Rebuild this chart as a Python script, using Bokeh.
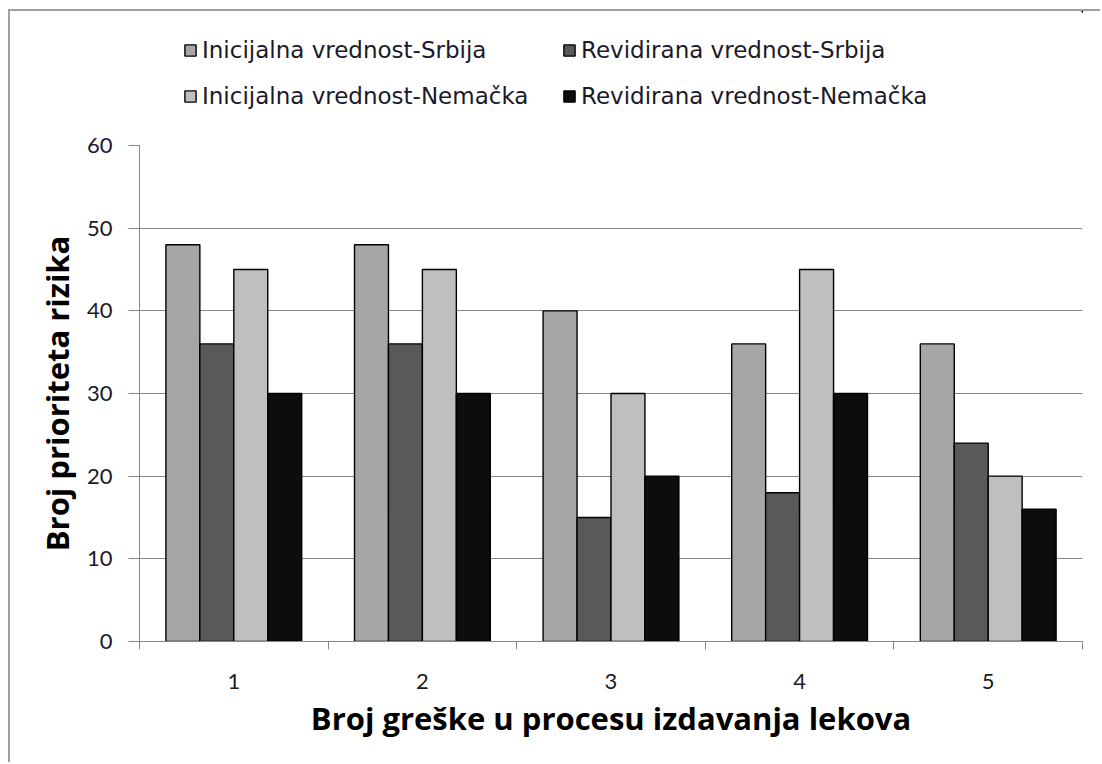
from bokeh.plotting import figure
from bokeh.models import ColumnDataSource, FixedTicker, Legend, LegendItem, Range1d
from bokeh.layouts import column
from bokeh.transform import dodge
from bokeh.embed import file_html
from bokeh.resources import INLINE

categories = [1, 2, 3, 4, 5]
tick_labels = ["1", "2", "3", "4", "5"]
series_names = ["Inicijalna vrednost-Srbija", "Revidirana vrednost-Srbija",
                "Inicijalna vrednost-Nemačka", "Revidirana vrednost-Nemačka"]
init_srbija = [48, 48, 40, 36, 36]
rev_srbija = [36, 36, 15, 18, 24]
init_nemacka = [45, 45, 30, 45, 20]
rev_nemacka = [30, 30, 20, 30, 16]

colors = ["#A6A6A6", "#595959", "#BFBFBF", "#0D0D0D"]
offsets = [-0.27, -0.09, 0.09, 0.27]
keys = ["s0", "s1", "s2", "s3"]

src = ColumnDataSource(dict(x=categories, s0=init_srbija, s1=rev_srbija,
                            s2=init_nemacka, s3=rev_nemacka))

W = 1090
HL = 114      # legend strip height
HM = 637      # main chart height

# ---------- main chart ----------
p = figure(width=W, height=HM, output_backend="svg", toolbar_location=None,
           x_range=Range1d(0.5, 5.5), y_range=Range1d(0, 60),
           min_border_left=129, min_border_right=18,
           min_border_top=20, min_border_bottom=121)
p.outline_line_color = None
p.background_fill_color = "white"

for i, key in enumerate(keys):
    p.vbar(x=dodge("x", offsets[i], range=p.x_range), top=key, width=0.18,
           source=src, fill_color=colors[i], line_color="#000000", line_width=1.4)

p.xaxis.ticker = FixedTicker(ticks=categories, minor_ticks=[0.5, 1.5, 2.5, 3.5, 4.5, 5.5])
p.xaxis.major_label_overrides = {c: t for c, t in zip(categories, tick_labels)}
p.xaxis.major_tick_line_color = None
p.xaxis.major_tick_out = 0
p.xaxis.major_tick_in = 0
p.xaxis.minor_tick_line_color = "#868686"
p.xaxis.minor_tick_out = 8
p.xaxis.minor_tick_in = 0
p.xaxis.axis_line_color = "#868686"
p.xaxis.major_label_standoff = 24
p.xaxis.axis_label = "Broj greške u procesu izdavanja lekova"
p.xaxis.axis_label_standoff = 5

p.yaxis.ticker = FixedTicker(ticks=[0, 10, 20, 30, 40, 50, 60])
p.yaxis.major_tick_line_color = "#868686"
p.yaxis.major_tick_out = 11
p.yaxis.major_tick_in = 0
p.yaxis.minor_tick_line_color = None
p.yaxis.axis_line_color = "#868686"
p.yaxis.major_label_standoff = 16
p.yaxis.axis_label = "Broj prioriteta rizika"
p.yaxis.axis_label_standoff = 6

for ax in (p.xaxis, p.yaxis):
    ax.major_label_text_font = "Lato"
    ax.major_label_text_font_size = "22px"
    ax.major_label_text_color = "#1A1A2A"
    ax.axis_label_text_font = "Open Sans"
    ax.axis_label_text_font_style = "bold"
    ax.axis_label_text_font_size = "31px"
    ax.axis_label_text_color = "#000000"

p.xgrid.grid_line_color = None
p.ygrid.grid_line_color = "#868686"
p.ygrid.grid_line_width = 1

# ---------- legend strip ----------
pl = figure(width=W, height=HL, output_backend="svg", toolbar_location=None,
            x_axis_type=None, y_axis_type=None,
            x_range=Range1d(-20, -19), y_range=Range1d(-20, -19),
            min_border_left=0, min_border_right=0, min_border_top=0, min_border_bottom=0)
pl.grid.visible = False
pl.outline_line_color = None

lrs = []
for i, key in enumerate(keys):
    lrs.append(pl.vbar(x="x", top=key, width=0.1, source=src,
                       fill_color=colors[i], line_color="#000000", line_width=1.4))

order = [0, 2, 1, 3]
items = [LegendItem(label=series_names[i], renderers=[lrs[i]]) for i in order]
legend = Legend(items=items, ncols=2, location=(44, 16),
                label_text_font="DejaVu Sans", label_text_font_size="23px",
                label_text_color="#1A1A2A",
                glyph_width=14, glyph_height=14, label_standoff=5, label_width=340,
                spacing=20, padding=0, margin=0, border_line_color=None,
                background_fill_alpha=0, label_height=24)
pl.add_layout(legend, "center")

layout = column(pl, p, spacing=0)
layout.styles = {"border-left": "2px solid #A0A0A0", "border-top": "2px solid #A0A0A0",
                 "margin-left": "8px", "margin-top": "9px"}

open("out.html", "w").write(file_html(layout, INLINE))
